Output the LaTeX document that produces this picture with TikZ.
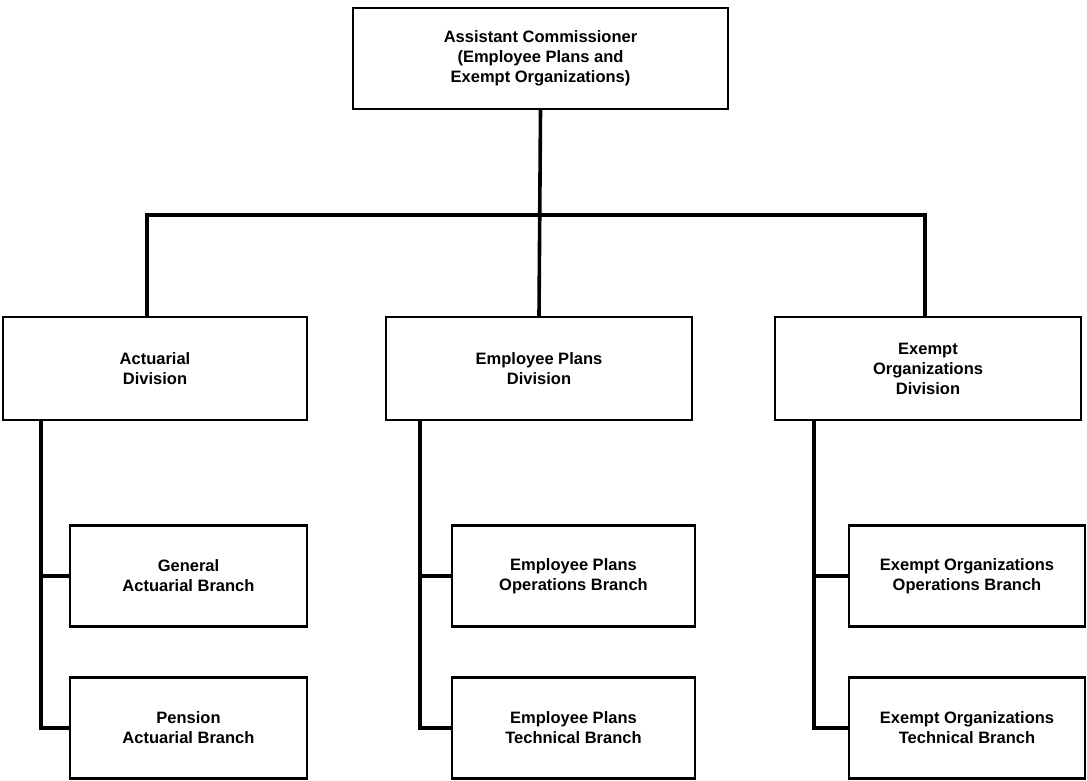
\documentclass[tikz,border=0pt]{standalone}
\usepackage{fontspec}
\setmainfont{Liberation Sans}
\usetikzlibrary{positioning}

\tikzset{
  unit/.style={draw=black, line width=2.2pt, align=center, inner sep=0pt,
    font=\fontsize{16.5}{20}\selectfont\bfseries},
  topbox/.style={unit, minimum width=375pt, minimum height=101pt},
  divbox/.style={unit, minimum width=306pt, minimum height=103pt},
  branchbox/.style={unit, minimum width=239pt, minimum height=101pt},
  link/.style={draw=black, line width=3.6pt, line join=miter}
}

\begin{document}
\begin{tikzpicture}[x=1pt, y=-1pt]
\useasboundingbox (0,0) rectangle (1087,781);

% Head office
\node[topbox] (ac) at (540.5,58.5)
  {Assistant Commissioner\\(Employee Plans and\\Exempt Organizations)};

% Divisions
\node[divbox, minimum width=304pt] (actdiv) at (155,368.5) {Actuarial\\Division};
\node[divbox] (epdiv) at (539,368.5) {Employee Plans\\Division};
\node[divbox] (eodiv) at (928,368.5) {Exempt\\Organizations\\Division};

% Branches
\node[branchbox, minimum width=237pt] (gab) at (188.5,576) {General\\Actuarial Branch};
\node[branchbox, minimum width=237pt] (pab) at (188.5,728) {Pension\\Actuarial Branch};
\node[branchbox, minimum width=243pt] (epob) at (573.5,576) {Employee Plans\\Operations Branch};
\node[branchbox, minimum width=243pt] (eptb) at (573.5,728) {Employee Plans\\Technical Branch};
\node[branchbox, minimum width=236pt] (eoob) at (967,576) {Exempt Organizations\\Operations Branch};
\node[branchbox, minimum width=236pt] (eotb) at (967,728) {Exempt Organizations\\Technical Branch};

% Head office to divisions
\coordinate (bar) at (540,215);
\draw[link] (ac.south) -- (epdiv.north);
\draw[link] ([xshift=-8pt]actdiv.north) |- (bar) -| ([xshift=-3pt]eodiv.north);

% Divisions to branches
\coordinate (actspine) at ([xshift=-28pt]gab.west);
\coordinate (epspine) at ([xshift=-31pt]epob.west);
\coordinate (eospine) at ([xshift=-34pt]eoob.west);
\draw[link] (actdiv.south -| actspine) |- (pab.west);
\draw[link] (actspine) -- (gab.west);
\draw[link] (epdiv.south -| epspine) |- (eptb.west);
\draw[link] (epspine) -- (epob.west);
\draw[link] (eodiv.south -| eospine) |- (eotb.west);
\draw[link] (eospine) -- (eoob.west);

\end{tikzpicture}
\end{document}
